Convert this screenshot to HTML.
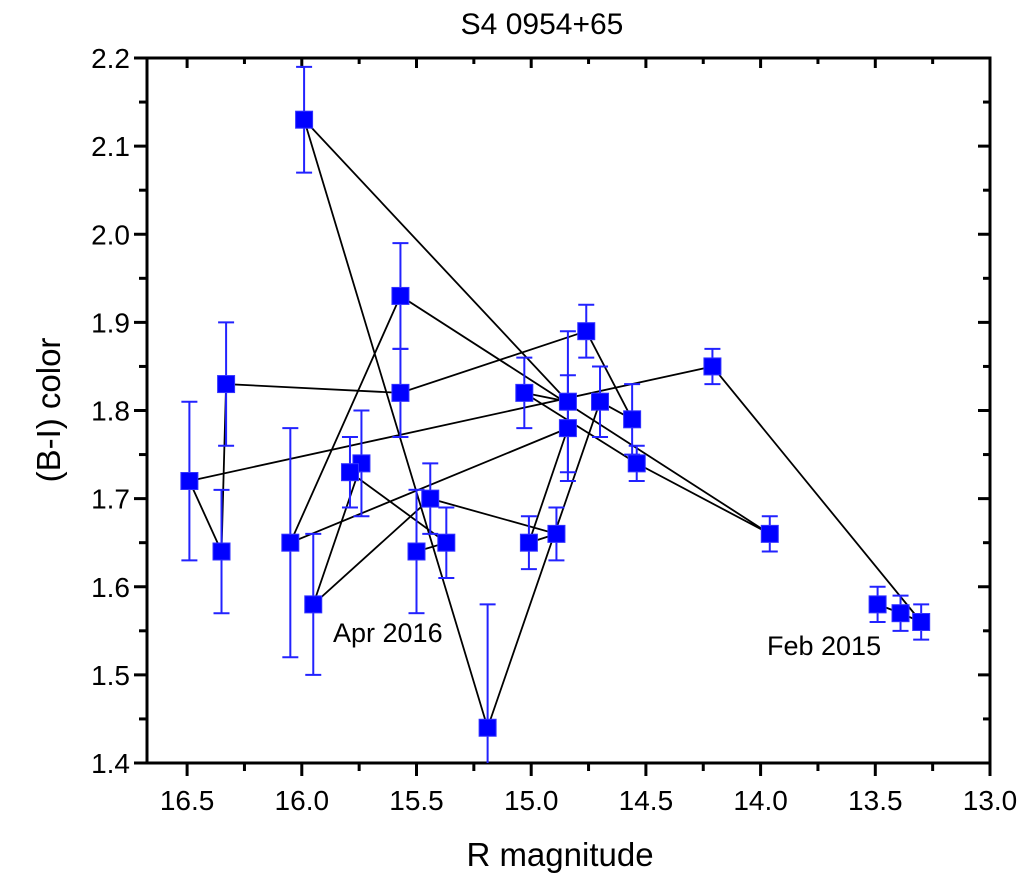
<!DOCTYPE html>
<html><head><meta charset="utf-8"><style>
html,body{margin:0;padding:0;background:#fff;}
svg{display:block;font-family:"Liberation Sans",Arial,sans-serif;}
</style></head><body>
<svg id="chart" width="1024" height="884" viewBox="0 0 1024 884">
<rect x="0" y="0" width="1024" height="884" fill="#fff"/>
<text x="542" y="34" font-size="30" text-anchor="middle">S4 0954+65</text>
<g id="axes"></g>
<g id="lines"></g>
<g id="errs"></g>
<g id="marks"></g>
<text x="560" y="866" font-size="33" text-anchor="middle">R magnitude</text>
<text transform="translate(60,410) rotate(-90)" font-size="33" text-anchor="middle">(B-I) color</text>
<text x="333" y="642" font-size="27">Apr 2016</text>
<text x="767" y="655" font-size="27">Feb 2015</text>
</svg>
<script>
// data in chronological (connection) order
const rMag =  [13.49,13.39,13.30,14.21,16.49,16.35,16.33,15.57,14.76,14.56,14.70,15.19,15.99,14.84,15.03,14.54,13.96,15.57,16.05,14.84,15.01,14.89,15.44,15.95,15.74,15.79,15.37,15.50];
const biColor=[1.58,1.57,1.56,1.85,1.72,1.64,1.83,1.82,1.89,1.79,1.81,1.44,2.13,1.81,1.82,1.74,1.66,1.93,1.65,1.78,1.65,1.66,1.70,1.58,1.74,1.73,1.65,1.64];
const biErr = [0.02,0.02,0.02,0.02,0.09,0.07,0.07,0.05,0.03,0.04,0.04,0.14,0.06,0.08,0.04,0.02,0.02,0.06,0.13,0.06,0.03,0.03,0.04,0.08,0.06,0.04,0.04,0.07];
const xTicks = [16.5,16.0,15.5,15.0,14.5,14.0,13.5,13.0];
const yTicks = [1.4,1.5,1.6,1.7,1.8,1.9,2.0,2.1,2.2];

const L=147,R=990,T=58,B=763;
const xS=v=>990-(v-13)*229.4;
const yS=v=>763-(v-1.4)*(705/0.8);
const NS='http://www.w3.org/2000/svg';
function mk(tag,attrs,parent){const e=document.createElementNS(NS,tag);for(const k in attrs)e.setAttribute(k,attrs[k]);parent.appendChild(e);return e;}
const ax=document.getElementById('axes');
const fr=mk('rect',{x:L,y:T,width:R-L,height:B-T,fill:'none',stroke:'#000','stroke-width':3},ax);


xTicks.forEach((v,i)=>{
  const x=xS(v);
  const t=mk('line',{x1:x,y1:B,x2:x,y2:B+13,stroke:'#000','stroke-width':3},ax);
  
  
  mk('line',{x1:x,y1:T,x2:x,y2:T+10,stroke:'#000','stroke-width':3},ax);
  if(i<xTicks.length-1){const xm=xS(v-0.25);
    mk('line',{x1:xm,y1:B,x2:xm,y2:B+8,stroke:'#000','stroke-width':3},ax);
    mk('line',{x1:xm,y1:T,x2:xm,y2:T+6,stroke:'#000','stroke-width':3},ax);}
  const lb=mk('text',{x:x,y:B+47,'font-size':28,'text-anchor':'middle'},ax);
  lb.textContent=v.toFixed(1);
  
  
});
const xm0=xS(16.75); if(xm0>L){mk('line',{x1:xm0,y1:B,x2:xm0,y2:B+8,stroke:'#000','stroke-width':3},ax);}
yTicks.forEach((v,i)=>{
  const y=yS(v);
  const t=mk('line',{x1:L-13,y1:y,x2:L,y2:y,stroke:'#000','stroke-width':3},ax);
  
  
  mk('line',{x1:R-12,y1:y,x2:R,y2:y,stroke:'#000','stroke-width':3},ax);
  if(i<yTicks.length-1){const ym=yS(v+0.05);
    mk('line',{x1:L-8,y1:ym,x2:L,y2:ym,stroke:'#000','stroke-width':3},ax);
    mk('line',{x1:R-7,y1:ym,x2:R,y2:ym,stroke:'#000','stroke-width':3},ax);}
  const lb=mk('text',{x:L-17,y:y+10,'font-size':28,'text-anchor':'end'},ax);
  lb.textContent=v.toFixed(1);
  
  
});
const lg=document.getElementById('lines');
const pts=rMag.map((v,i)=>xS(v)+','+yS(biColor[i])).join(' ');
const pl=mk('polyline',{points:pts,fill:'none',stroke:'#000','stroke-width':1.8},lg);


const eg=document.getElementById('errs'),mg=document.getElementById('marks');
rMag.forEach((v,i)=>{
  const x=xS(v),y=yS(biColor[i]);
  const y1=Math.min(yS(biColor[i]-biErr[i]),B),y2=yS(biColor[i]+biErr[i]);
  const g=mk('g',{stroke:'#2222ff','stroke-width':2},eg);
  
  
  mk('line',{x1:x,y1:y1,x2:x,y2:y2},g);
  mk('line',{x1:x-8,y1:y2,x2:x+8,y2:y2},g);
  if(yS(biColor[i]-biErr[i])<=B) mk('line',{x1:x-8,y1:y1,x2:x+8,y2:y1},g);
  const m=mk('rect',{x:x-8.5,y:y-8.5,width:17,height:17,fill:'#0000ff',stroke:'#3333ff','stroke-width':1},mg);
  
  
});
</script>
</body></html>
